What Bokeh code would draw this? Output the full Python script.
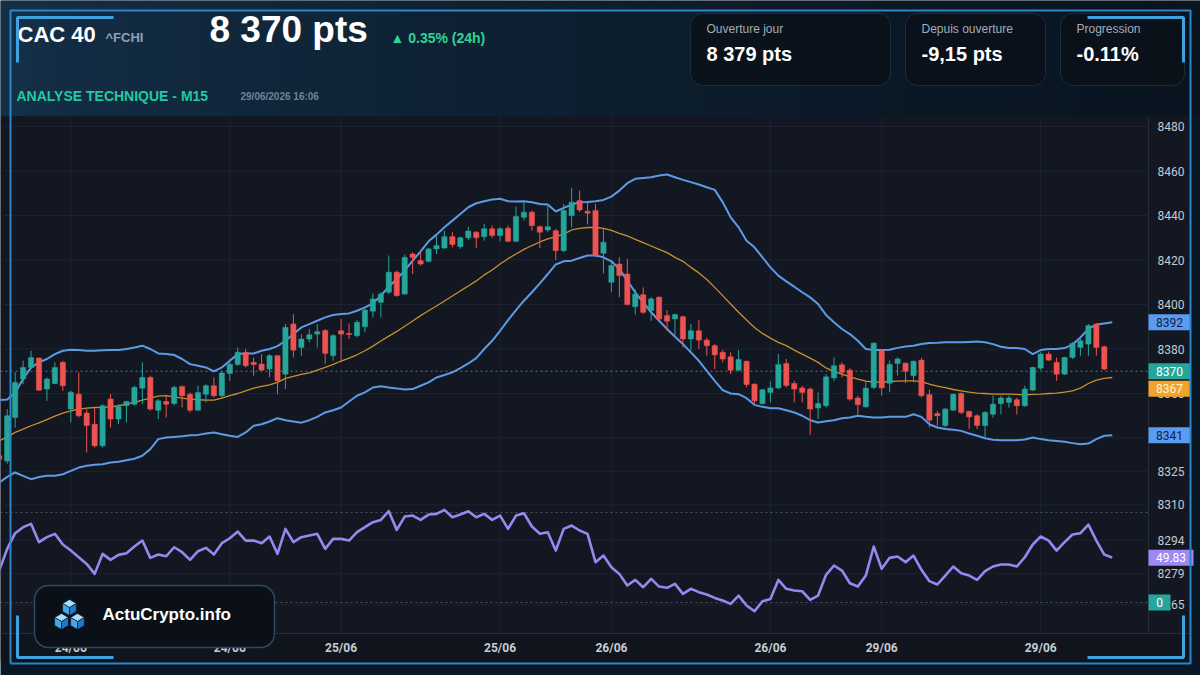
from bokeh.plotting import figure
from bokeh.models import Range1d, ColumnDataSource
from bokeh.core.properties import value
from bokeh.embed import file_html
from bokeh.resources import INLINE

# ---------------- DATA ----------------
opens = [8332, 8329.7, 8349.2, 8366.5, 8371.7, 8375.9, 8362, 8364.5, 8374, 8353,
         8359.7, 8351.2, 8346.2, 8336.5, 8357.5, 8348.5, 8354.5, 8355.2, 8362.4, 8367.2,
         8352.5, 8356.4, 8355.5, 8363.2, 8359.7, 8352.5, 8359.7, 8363.5, 8359, 8369,
         8373, 8378.5, 8374, 8373.2, 8371, 8377, 8368.7, 8391.2, 8380.7, 8384.5,
         8386.7, 8388.3, 8377, 8388.2, 8387, 8386, 8390, 8397, 8401, 8405.5,
         8414.5, 8404.7, 8422.7, 8419.7, 8419.4, 8425, 8425.4, 8430.5, 8426, 8430,
         8432.5, 8430.5, 8434, 8431, 8434.3, 8428.4, 8439.2, 8441.5, 8435, 8433.5,
         8433.2, 8424.2, 8440, 8446.7, 8441.9, 8442.2, 8423, 8410, 8418.2, 8413.7,
         8399, 8404.4, 8397.3, 8403.3, 8395, 8393.5, 8394.5, 8384.5, 8388.2, 8384,
         8381.5, 8378.5, 8376.5, 8370.5, 8374.5, 8364.2, 8355.5, 8360.5, 8362.5, 8373.5,
         8364.5, 8362.5, 8362, 8353.5, 8354.5, 8367, 8372.9, 8370.5, 8358, 8354,
         8362.7, 8379.3, 8364.6, 8373.5, 8373.6, 8368, 8375, 8359.5, 8351, 8345.6,
         8352.5, 8360, 8352, 8350, 8345.6, 8350.7, 8355.5, 8356, 8357.2, 8354.5,
         8361.5, 8371.4, 8377.7, 8374, 8368.7, 8376.2, 8380.7, 8382.2, 8391.2, 8381]
highs = [8333, 8353, 8369.5, 8374.7, 8379.2, 8376.2, 8367.2, 8374, 8374.7, 8361.2,
         8369.5, 8353, 8353.7, 8355.2, 8359.7, 8355.2, 8356.7, 8363.5, 8374, 8368,
         8357.5, 8359, 8363.5, 8363.5, 8360.4, 8363.5, 8364.2, 8367.2, 8370.2, 8375.5,
         8380.7, 8380, 8376.2, 8377.7, 8377.7, 8377, 8391.2, 8395.7, 8386.7, 8389,
         8391.2, 8389, 8386.7, 8393.5, 8391.5, 8393, 8398.7, 8405, 8405.5, 8422,
         8415.2, 8422.4, 8423.5, 8423.5, 8425.4, 8431, 8433.2, 8432.5, 8430.5, 8435,
         8433, 8436.2, 8435.5, 8434.7, 8435.5, 8444, 8446, 8442.2, 8435.5, 8445.2,
         8434, 8445.2, 8452.4, 8451.2, 8446, 8445.2, 8434, 8419, 8421.2, 8420.5,
         8407, 8407.7, 8403.3, 8403.6, 8397.5, 8395.8, 8395, 8391.2, 8393, 8385,
         8382.2, 8379.5, 8378.5, 8379.5, 8374.7, 8364.5, 8362, 8365.5, 8377.8, 8375.5,
         8365.7, 8363.5, 8362.7, 8360.5, 8368.7, 8376.2, 8374, 8371.4, 8359, 8365.7,
         8383, 8380, 8374.8, 8376.3, 8374, 8374.8, 8376, 8361.7, 8352.2, 8353.5,
         8360, 8360.5, 8352.2, 8350.7, 8352, 8359, 8359, 8359, 8358, 8363.5,
         8372, 8378.5, 8378.9, 8376.2, 8376.5, 8383, 8384.5, 8391.2, 8391.5, 8381.5]
lows = [8329, 8328.5, 8344.7, 8364.2, 8371, 8361.2, 8356.7, 8364.2, 8361.2, 8347,
        8349.2, 8333.5, 8335.7, 8335.7, 8344.7, 8346.2, 8347, 8354.5, 8355.2, 8352.2,
        8348.5, 8349.2, 8354.6, 8353.7, 8351.5, 8352.2, 8356, 8358.2, 8358.2, 8365.7,
        8372.5, 8371.7, 8368, 8370.2, 8367.2, 8359.7, 8362, 8376.2, 8377, 8383,
        8380.7, 8373.2, 8374.7, 8374, 8384.5, 8385.2, 8387.5, 8394.2, 8394.2, 8404.7,
        8403.5, 8404.4, 8413.7, 8417.5, 8419, 8422.7, 8425, 8425.7, 8425, 8429,
        8425.4, 8428.7, 8430, 8428.4, 8428, 8428, 8437.7, 8433.2, 8425.4, 8432.5,
        8420, 8423.5, 8434.7, 8441.5, 8436, 8421.2, 8414, 8405.5, 8403.3, 8399.5,
        8395.5, 8395.7, 8392.7, 8393, 8388.2, 8386, 8380.7, 8379.2, 8380, 8377,
        8371, 8374, 8368.7, 8370, 8362.7, 8355.5, 8355, 8356, 8362, 8362.7,
        8356, 8356, 8341.4, 8348.5, 8353.7, 8365.7, 8367.2, 8356.7, 8350.7, 8353.7,
        8362, 8359, 8360.6, 8368, 8364.6, 8365, 8358.2, 8344.7, 8345.5, 8344.7,
        8352.2, 8350.7, 8344, 8344, 8340.5, 8349.2, 8350.7, 8353.7, 8350.5, 8354,
        8361.2, 8370.5, 8374.7, 8365.7, 8368.4, 8375.5, 8377, 8377, 8377, 8370.5]
closes = [8330.5, 8350, 8365, 8371.7, 8376.2, 8361.5, 8366.5, 8371.7, 8363.5, 8360.6,
          8350, 8345.6, 8336.5, 8354.5, 8348.5, 8354, 8356.4, 8362.7, 8367.2, 8353,
          8356.7, 8355.2, 8362.7, 8359, 8352.5, 8360.4, 8363.5, 8359, 8369.2, 8373.2,
          8378.5, 8372.5, 8373, 8370.5, 8377, 8365.7, 8389.7, 8379.5, 8384.5, 8386.4,
          8387.8, 8378, 8386, 8386.7, 8386.5, 8392, 8397.5, 8402.5, 8404.7, 8414.5,
          8404, 8421.2, 8421.2, 8418.2, 8425, 8426.5, 8430.5, 8427, 8430, 8433,
          8430, 8434, 8431, 8434, 8428.4, 8439.5, 8441.5, 8435.5, 8432.5, 8435,
          8424.2, 8442.2, 8446, 8442.5, 8441, 8422, 8428, 8417.5, 8413, 8400,
          8404.7, 8396.5, 8402.5, 8393.5, 8392.5, 8395.5, 8384.5, 8388.2, 8384, 8381.5,
          8377.4, 8375.5, 8370.5, 8375.3, 8364, 8356.7, 8361.7, 8362.5, 8373, 8363.6,
          8362, 8360.5, 8353, 8355.5, 8367.5, 8372.5, 8369.5, 8357.5, 8355, 8362.4,
          8382.6, 8362.5, 8373, 8375.5, 8370, 8374.5, 8359, 8348, 8350, 8353,
          8359.7, 8351.5, 8349.5, 8345.6, 8351.5, 8355.2, 8358, 8358, 8354.5, 8362,
          8371.7, 8377.7, 8375, 8368.7, 8376.2, 8382.5, 8383.7, 8390.5, 8380.7, 8371]

bb_upper = [8357.0, 8357.3, 8360.5, 8366.5, 8371.7, 8374.0, 8375.5, 8377.7, 8379.2, 8379.7,
            8379.6, 8379.2, 8379.2, 8379.4, 8379.6, 8379.6, 8380.0, 8380.7, 8381.5, 8380.0,
            8378.0, 8377.7, 8377.3, 8375.5, 8373.2, 8372.5, 8371.7, 8369.9, 8371.7, 8374.7,
            8377.7, 8378.0, 8378.0, 8379.2, 8380.0, 8381.3, 8383.7, 8386.7, 8389.7, 8391.2,
            8392.7, 8394.2, 8395.3, 8395.7, 8396.0, 8397.2, 8398.7, 8400.5, 8404.0, 8408.0,
            8411.5, 8415.2, 8419.7, 8423.9, 8428.4, 8431.4, 8434.7, 8437.7, 8440.7, 8443.7,
            8445.5, 8446.4, 8447.2, 8447.5, 8446.4, 8446.3, 8446.4, 8446.0, 8445.2, 8444.9,
            8441.8, 8443.4, 8444.9, 8446.0, 8446.1, 8446.4, 8447.0, 8448.5, 8451.2, 8454.5,
            8456.5, 8456.9, 8457.2, 8458.0, 8458.4, 8457.2, 8456.0, 8455.0, 8453.9, 8452.7,
            8451.5, 8446.0, 8439.2, 8434.7, 8428.7, 8425.7, 8421.2, 8416.7, 8413.0, 8410.4,
            8408.0, 8405.5, 8403.2, 8400.2, 8395.3, 8392.0, 8389.0, 8386.7, 8383.7, 8380.0,
            8379.5, 8379.5, 8379.7, 8380.5, 8381.1, 8381.5, 8382.2, 8382.7, 8382.8, 8383.0,
            8383.0, 8383.0, 8383.2, 8383.4, 8383.0, 8382.2, 8381.0, 8380.4, 8380.4, 8380.0,
            8377.7, 8379.5, 8380.0, 8380.0, 8380.4, 8382.0, 8385.2, 8389.0, 8391.0, 8391.5,
            8392.0]
bb_mid = [8338.7, 8340.5, 8342.5, 8344.0, 8345.5, 8346.8, 8348.3, 8349.8, 8351.2, 8352.2,
          8353.0, 8353.4, 8353.7, 8353.8, 8354.0, 8354.5, 8355.2, 8356.0, 8357.0, 8357.9,
          8358.8, 8359.0, 8358.5, 8357.9, 8357.5, 8357.2, 8357.0, 8357.0, 8357.9, 8359.0,
          8360.0, 8361.2, 8362.4, 8363.2, 8363.9, 8365.0, 8366.8, 8367.7, 8368.6, 8369.3,
          8370.5, 8371.7, 8373.1, 8374.6, 8375.9, 8377.4, 8379.2, 8381.3, 8383.6, 8385.8,
          8387.9, 8390.2, 8392.6, 8395.0, 8397.2, 8399.3, 8401.6, 8403.8, 8406.1, 8408.3,
          8410.6, 8413.3, 8415.5, 8418.2, 8420.6, 8422.7, 8424.8, 8426.5, 8428.1, 8429.5,
          8430.5, 8431.6, 8433.5, 8434.2, 8434.6, 8434.6, 8434.2, 8433.3, 8432.0, 8430.8,
          8429.3, 8427.8, 8426.3, 8424.8, 8423.3, 8421.2, 8419.4, 8416.7, 8414.2, 8411.2,
          8407.7, 8404.0, 8400.2, 8396.5, 8393.0, 8389.7, 8387.0, 8384.9, 8383.0, 8381.5,
          8379.5, 8377.7, 8375.9, 8374.0, 8371.5, 8369.8, 8368.7, 8367.5, 8366.5, 8365.6,
          8365.1, 8365.1, 8365.4, 8365.6, 8365.7, 8365.7, 8365.3, 8364.2, 8363.3, 8362.6,
          8361.8, 8361.2, 8360.6, 8360.2, 8360.0, 8359.7, 8359.7, 8359.7, 8359.6, 8359.4,
          8359.6, 8359.7, 8360.0, 8360.2, 8360.6, 8361.2, 8362.4, 8364.5, 8366.0, 8366.8,
          8367.2]
bb_lower = [8320.0, 8322.5, 8324.5, 8323.0, 8321.5, 8322.5, 8323.0, 8323.0, 8323.7, 8325.2,
            8326.7, 8327.5, 8328.0, 8328.2, 8329.0, 8329.3, 8330.0, 8330.7, 8332.0, 8335.0,
            8339.5, 8340.2, 8340.5, 8340.8, 8341.2, 8341.4, 8342.0, 8342.5, 8341.7, 8341.0,
            8340.5, 8342.5, 8345.5, 8346.2, 8347.4, 8348.9, 8348.0, 8347.4, 8346.9, 8348.0,
            8349.5, 8351.5, 8352.5, 8353.7, 8356.4, 8359.0, 8360.5, 8362.7, 8363.3, 8362.7,
            8362.3, 8361.8, 8362.0, 8363.5, 8365.0, 8367.2, 8368.3, 8369.5, 8371.4, 8373.5,
            8375.9, 8380.0, 8383.7, 8388.2, 8393.0, 8397.5, 8401.7, 8405.5, 8409.5, 8413.7,
            8418.0, 8419.4, 8419.7, 8420.9, 8422.0, 8422.0, 8421.2, 8419.4, 8416.0, 8410.7,
            8405.5, 8401.0, 8396.5, 8392.7, 8389.0, 8385.5, 8382.2, 8378.5, 8374.7, 8370.2,
            8365.7, 8361.5, 8360.0, 8359.7, 8357.9, 8354.9, 8354.0, 8353.4, 8353.4, 8352.5,
            8351.5, 8350.0, 8348.0, 8347.0, 8347.5, 8348.0, 8348.9, 8349.2, 8350.0, 8349.5,
            8349.2, 8349.2, 8349.5, 8349.5, 8349.5, 8350.7, 8349.5, 8346.2, 8344.7, 8344.0,
            8343.7, 8343.2, 8342.0, 8341.0, 8339.9, 8339.2, 8339.0, 8339.0, 8339.0, 8339.3,
            8340.2, 8339.5, 8339.0, 8338.7, 8338.3, 8337.7, 8337.2, 8337.5, 8339.5, 8341.0,
            8341.2]
rsi_values = [35.5, 59.6, 77.0, 83.7, 87.4, 67.0, 72.6, 76.3, 64.4, 57.7,
              50.3, 42.9, 31.8, 54.0, 47.4, 52.9, 54.8, 62.2, 68.8, 49.6,
              53.3, 51.4, 61.4, 55.9, 47.4, 57.0, 60.7, 53.3, 65.9, 71.4,
              78.8, 68.8, 68.8, 65.9, 73.3, 54.0, 81.8, 67.0, 72.6, 74.4,
              76.3, 59.6, 70.7, 70.7, 68.8, 78.1, 83.7, 89.2, 91.8, 101.4,
              80.7, 95.5, 96.6, 91.8, 97.7, 98.5, 102.9, 94.8, 97.7, 101.4,
              94.8, 98.5, 91.8, 96.6, 81.8, 96.6, 99.2, 84.4, 76.3, 78.1,
              57.7, 81.8, 85.5, 80.0, 76.3, 44.8, 52.2, 39.2, 31.8, 18.9,
              25.1, 17.0, 26.3, 17.7, 16.3, 20.7, 9.6, 15.2, 11.5, 8.9,
              5.1, 2.2, -1.5, 7.7, -3.4, -9.7, 1.4, 4.0, 25.1, 15.2,
              13.3, 12.5, 2.9, 7.7, 30.8, 41.1, 35.5, 21.4, 17.7, 29.9,
              62.2, 37.4, 49.6, 51.1, 44.8, 52.2, 36.3, 23.7, 20.0, 29.9,
              40.0, 32.6, 29.9, 25.1, 34.8, 40.0, 42.2, 42.2, 40.0, 50.3,
              64.4, 73.3, 68.8, 57.7, 67.0, 75.5, 77.0, 86.6, 68.8, 53.3,
              49.83]

date_tick_idx = [9, 29, 43, 63, 77, 97, 111, 131]
date_tick_labels = ["24/06", "24/06", "25/06", "25/06", "26/06", "26/06", "29/06", "29/06"]
price_ticks = [8480, 8460, 8440, 8420, 8400, 8380, 8360, 8340, 8325, 8310, 8294, 8279, 8265]

last_price = 8370
rsi_last = 49.83
rsi_levels = [100, 0]

title_name = "CAC 40"
title_symbol = "^FCHI"
title_price = "8 370 pts"
title_change = "▲ 0.35% (24h)"
subtitle = "ANALYSE TECHNIQUE - M15"
timestamp = "29/06/2026 16:06"
card_labels = ["Ouverture jour", "Depuis ouverture", "Progression"]
card_values = ["8 379 pts", "-9,15 pts", "-0.11%"]
brand = "ActuCrypto.info"

# ---------------- LAYOUT CONSTANTS ----------------
W, H = 1200, 675
PX_PER_IDX, PX_IDX0 = 7.95, -1.25
PX_PER_PT, Y_8480 = 2.225, 126.0
RSI_Y0, RSI_PX = 602.0, 0.9
PANEL_R = 1148
FONT = value("Liberation Sans")
AXF = value("Roboto")
UP, DOWN = "#26a69a", "#ef5350"

p = figure(width=W, height=H, x_range=Range1d(0, W), y_range=Range1d(H, 0),
           output_backend="svg", toolbar_location=None, min_border=0,
           x_axis_location=None, y_axis_location=None, outline_line_color=None)
p.grid.visible = False
p.background_fill_color = "#0a1724"
p.border_fill_color = "#0a1724"
p.extra_x_ranges = {"idx": Range1d((0 - PX_IDX0) / PX_PER_IDX, (W - PX_IDX0) / PX_PER_IDX)}
p.extra_y_ranges = {
    "price": Range1d(8480 - (H - Y_8480) / PX_PER_PT, 8480 + Y_8480 / PX_PER_PT),
    "rsi": Range1d((RSI_Y0 - H) / RSI_PX, RSI_Y0 / RSI_PX),
}

# header gradient
n_strips = 48
sw = W / n_strips
c0, c1 = (20, 48, 72), (9, 20, 32)
cols = []
for k in range(n_strips):
    t = (k / (n_strips - 1)) ** 0.7
    c = tuple(int(c0[j] + (c1[j] - c0[j]) * t) for j in range(3))
    cols.append("#%02x%02x%02x" % c)
p.quad(left=[k * sw for k in range(n_strips)], right=[(k + 1) * sw + 0.5 for k in range(n_strips)],
       top=[0] * n_strips, bottom=[116] * n_strips, fill_color=cols, line_color=None)

# panels
p.quad(left=[0], right=[1190], top=[116], bottom=[633], fill_color="#131722", line_color=None)
p.quad(left=[0], right=[1190], top=[633], bottom=[660], fill_color="#10141c", line_color=None)
p.segment(x0=[PANEL_R, 0], y0=[116, 633], x1=[PANEL_R, 1190], y1=[633, 633],
          line_color="#262b38", line_width=1)

# grid
p.segment(x0=[0] * len(price_ticks), x1=[PANEL_R] * len(price_ticks), y0=price_ticks, y1=price_ticks,
          line_color="#1d2230", line_width=1, y_range_name="price")
p.segment(x0=date_tick_idx, x1=date_tick_idx, y0=[116] * len(date_tick_idx), y1=[633] * len(date_tick_idx),
          line_color="#1d2230", line_width=1, x_range_name="idx")

# dotted reference lines
p.segment(x0=[0], x1=[PANEL_R], y0=[last_price], y1=[last_price], line_color="#4d7f84",
          line_dash="2 3", line_width=1, y_range_name="price")
p.segment(x0=[0, 0], x1=[PANEL_R, PANEL_R], y0=rsi_levels, y1=rsi_levels, line_color="#4a5362",
          line_dash="2 3", line_width=1, y_range_name="rsi")

# bollinger + MA
ind_idx = list(range(len(bb_upper)))
p.line(ind_idx, bb_upper, line_color="#5d9be6", line_width=2, x_range_name="idx", y_range_name="price")
p.line(ind_idx, bb_lower, line_color="#5d9be6", line_width=2, x_range_name="idx", y_range_name="price")
p.line(ind_idx, bb_mid, line_color="#c8902c", line_width=1.3, x_range_name="idx", y_range_name="price")

# candles
n = len(opens)
idx = list(range(n))
colors = [UP if c >= o else DOWN for o, c in zip(opens, closes)]
tops = [max(o, c) for o, c in zip(opens, closes)]
bots = [min(o, c) if abs(o - c) >= 0.45 else max(o, c) - 0.45 for o, c in zip(opens, closes)]
src = ColumnDataSource(dict(i=idx, o=opens, h=highs, l=lows, c=closes, top=tops, bot=bots, col=colors))
p.segment(x0="i", y0="l", x1="i", y1="h", line_color="col", line_width=1, source=src,
          x_range_name="idx", y_range_name="price")
p.vbar(x="i", width=0.66, top="top", bottom="bot", fill_color="col", line_color="col", line_width=0.5,
       source=src, x_range_name="idx", y_range_name="price")

# RSI
p.line(ind_idx, rsi_values, line_color="#9a86ee", line_width=2.6, line_join="round",
       x_range_name="idx", y_range_name="rsi")

# right axis labels
p.text(x=[1157] * len(price_ticks), y=price_ticks, text=[str(t) for t in price_ticks],
       text_font=AXF, text_font_size="12px", text_color="#c5c9d1", text_baseline="middle",
       text_align="left", y_range_name="price")

# badges on price scale (stacked so they don't overlap)
badges = [(bb_upper[-1], "#5b9bf0", "#0e2246"), (last_price, "#26a69a", "#ffffff"),
          (bb_mid[-1], "#f2a32a", "#fff4dc"), (bb_lower[-1], "#5b9bf0", "#0e2246")]
badges.sort(key=lambda b: -b[0])
bh = 16 / PX_PER_PT
centers, prev = [], None
for v, fc, tc in badges:
    cy = v if prev is None else min(v, prev - bh - 1.5 / PX_PER_PT)
    centers.append(cy)
    prev = cy
p.rect(x=[1169] * len(badges), y=centers, width=42, height=16, height_units="screen",
       fill_color=[b[1] for b in badges], line_color=None, y_range_name="price")
p.text(x=[1169] * len(badges), y=centers, text=[str(int(round(b[0]))) for b in badges],
       text_color=[b[2] for b in badges], text_font=AXF, text_font_size="12px",
       text_align="center", text_baseline="middle", y_range_name="price")

# badges on rsi
p.rect(x=[1170.5, 1159], y=[rsi_last, 0], width=[45, 22], height=16, height_units="screen",
       fill_color=["#9d88f4", "#26a69a"], line_color=None, y_range_name="rsi")
p.text(x=[1170.5, 1159], y=[rsi_last, 0], text=["%.2f" % rsi_last, "0"], text_color="#ffffff",
       text_font=AXF, text_font_size="12px", text_align="center", text_baseline="middle",
       y_range_name="rsi")

# date labels
p.text(x=date_tick_idx, y=[647] * len(date_tick_idx), text=date_tick_labels, text_font=AXF,
       text_font_size="12px", text_font_style="bold", text_color="#c8ccd4", text_align="center",
       text_baseline="middle", x_range_name="idx")

# header texts
def txt(x, y, s, size, color, bold=True, align="left"):
    p.text(x=[x], y=[y], text=[s], text_font=FONT, text_font_size=size,
           text_font_style="bold" if bold else "normal", text_color=color,
           text_align=align, text_baseline="middle")

txt(17, 34, title_name, "22px", "#ffffff")
txt(105, 37, title_symbol, "13px", "#8fa2b6")
txt(209, 29, title_price, "37px", "#ffffff")
txt(390, 37, title_change, "14px", "#2fd39a")
txt(16, 95, subtitle, "14px", "#22c9a2")
txt(240, 96, timestamp, "10px", "#6f8295")

# cards
card_l = [690, 905, 1060]
card_r = [890, 1045, 1184]
p.quad(left=card_l, right=card_r, top=[13] * 3, bottom=[85] * 3, fill_color="#0b1119",
       fill_alpha=0.85, line_color="#1f2b39", line_width=1, border_radius=12)
for k in range(3):
    txt(card_l[k] + 16, 28, card_labels[k], "12px", "#a3adb9", bold=False)
    txt(card_l[k] + 16, 53, card_values[k], "20px", "#ffffff")

# frame decorations
p.line([10, 10, 1190, 1190, 10], [663, 10, 10, 663, 663], line_color="#2a86c8", line_width=2)
p.multi_line(xs=[[17, 17, 113], [1087, 1183, 1183], [17, 17, 113], [1087, 1183, 1183]],
             ys=[[62, 17, 17], [17, 17, 62], [615, 657, 657], [657, 657, 615]],
             line_color="#3da2de", line_width=3)

# brand box
p.quad(left=[34], right=[274], top=[585], bottom=[647], fill_color="#0b1018", line_color="#2c4a60",
       line_width=1.5, border_radius=14)
cube_xs, cube_ys, cube_cols = [], [], []
for cx, cy in [(69, 607), (61, 621), (77, 621)]:
    s, h = 8.0, 6.9
    faces = [
        ([cx, cx + h, cx, cx - h], [cy - s, cy - s / 2, cy, cy - s / 2], "#9fe0ff"),
        ([cx - h, cx, cx, cx - h], [cy - s / 2, cy, cy + s, cy + s / 2], "#45a8ec"),
        ([cx, cx + h, cx + h, cx], [cy, cy - s / 2, cy + s / 2, cy + s], "#2476c8"),
    ]
    for fx, fy, fc in faces:
        cube_xs.append(fx)
        cube_ys.append(fy)
        cube_cols.append(fc)
p.patches(cube_xs, cube_ys, fill_color=cube_cols, line_color="#0b1018", line_width=0.6)
txt(102, 614, brand, "17px", "#ffffff")

open("out.html", "w").write(file_html(p, INLINE))
